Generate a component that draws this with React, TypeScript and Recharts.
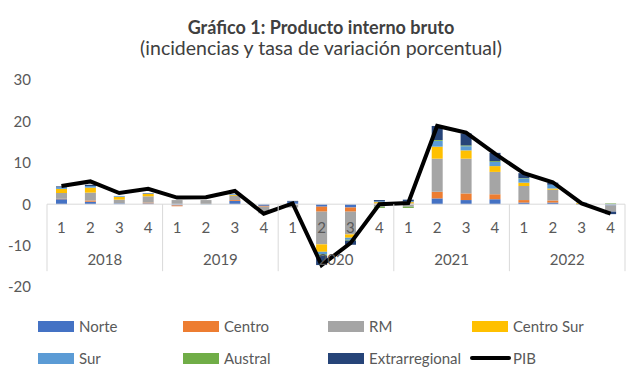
import React from "react";
import {
  ComposedChart,
  Bar,
  Line,
  XAxis,
  YAxis,
  ReferenceLine,
} from "recharts";

const years = ["2018", "2019", "2020", "2021", "2022"];
const quarters = ["1", "2", "3", "4"];

const norte = [1.2, 0.6, 0.2, 0.2, -0.3, 0.0, 0.8, -0.4, 0.6, -0.6, -0.8, 0.1, 0.1, 1.4, 1.0, 1.2, 0.4, 0.4, -0.2, -0.3];
const centro = [0.1, 0.3, 0.0, 0.2, -0.2, 0.0, 0.2, -0.2, 0.0, -1.2, -1.0, 0.1, 0.1, 1.6, 1.6, 1.2, 0.6, 0.5, 0.0, 0.0];
const rm = [1.4, 1.9, 0.9, 1.5, 1.0, 1.0, 1.0, -1.6, -0.8, -7.9, -5.5, -0.6, -0.6, 8.0, 8.4, 5.4, 3.4, 2.6, 0.0, -1.5];
const centroSur = [1.0, 1.2, 0.7, 0.6, 0.0, 0.0, 0.2, 0.0, 0.0, -1.8, -0.8, 0.3, 0.3, 2.9, 2.0, 1.4, 0.8, 0.3, 0.3, 0.0];
const sur = [0.4, 0.4, 0.2, 0.1, 0.0, -0.1, 0.2, 0.0, 0.0, -0.6, -0.5, 0.2, 0.2, 1.4, 1.0, 1.0, 1.0, 0.9, 0.1, 0.0];
const austral = [0.0, 0.0, 0.0, 0.0, 0.0, 0.0, 0.0, 0.0, 0.0, -0.3, -0.2, -0.3, -0.3, 0.2, 0.2, 0.2, 0.1, 0.0, 0.0, 0.2];
const extrarregional = [0.2, 0.3, 0.0, 0.1, 0.0, 0.0, 0.0, 0.0, 0.2, -2.3, -1.0, 0.3, 0.4, 3.4, 2.9, 2.0, 1.2, 0.5, 0.0, -0.6];
const pib = [4.4, 5.5, 2.7, 3.7, 1.6, 1.7, 3.2, -2.3, 0.2, -14.7, -9.4, 0.0, 0.3, 18.9, 17.3, 12.2, 7.5, 5.3, 0.2, -2.3];

const yTicks = [-20, -10, 0, 10, 20, 30];

const series = [
  { key: "norte", name: "Norte", color: "#4472C4", values: norte },
  { key: "centro", name: "Centro", color: "#ED7D31", values: centro },
  { key: "rm", name: "RM", color: "#A5A5A5", values: rm },
  { key: "centroSur", name: "Centro Sur", color: "#FFC000", values: centroSur },
  { key: "sur", name: "Sur", color: "#5B9BD5", values: sur },
  { key: "austral", name: "Austral", color: "#70AD47", values: austral },
  { key: "extra", name: "Extrarregional", color: "#264478", values: extrarregional },
];

const data = years.flatMap((yr, yi) =>
  quarters.map((q, qi) => {
    const i = yi * 4 + qi;
    const row: Record<string, any> = { label: `${yr}-${q}`, year: yr, q };
    series.forEach((s) => (row[s.key] = s.values[i]));
    row.pib = pib[i];
    return row;
  })
);

// layout
const W = 642;
const TOP = 80;
const LEFT = 47;
const RIGHT = 17;
const PLOT_H = 207;
const PLOT_W = W - LEFT - RIGHT;
const BAND = PLOT_W / data.length;
const ZERO_Y = TOP + (PLOT_H * 30) / 50;
const TEXT = "#595959";
const GRID = "#D9D9D9";

function CategoryTick(props: any) {
  const { x, payload } = props;
  const [yr, q] = String(payload.value).split("-");
  const last = payload.value === data[data.length - 1].label;
  return (
    <g>
      <text x={x} y={ZERO_Y + 29} textAnchor="middle" fill={TEXT} fontSize={15}>
        {q}
      </text>
      {q === "1" && (
        <>
          <line x1={x - BAND / 2} x2={x - BAND / 2} y1={ZERO_Y} y2={ZERO_Y + 67} stroke={GRID} />
          <text x={x + BAND * 1.5} y={ZERO_Y + 61} textAnchor="middle" fill={TEXT} fontSize={15}>
            {yr}
          </text>
        </>
      )}
      {last && (
        <line x1={x + BAND / 2} x2={x + BAND / 2} y1={ZERO_Y} y2={ZERO_Y + 67} stroke={GRID} />
      )}
    </g>
  );
}

const legendCols = [38, 183, 328, 472];
const legendRows = [326, 358];

export default function App() {
  const items = [
    ...series.map((s) => ({ name: s.name, color: s.color, line: false })),
    { name: "PIB", color: "#000000", line: true },
  ];
  return (
    <div
      style={{
        position: "absolute",
        left: 0,
        top: 0,
        width: W,
        height: 392,
        background: "#fff",
        fontFamily: "Lato, 'Open Sans', sans-serif",
      }}
    >
      <div
        style={{
          position: "absolute",
          top: 16,
          left: 0,
          width: W,
          textAlign: "center",
          fontWeight: 700,
          fontSize: 18,
          lineHeight: "22px",
          color: "#404040",
        }}
      >
        Gráfico 1: Producto interno bruto
      </div>
      <div
        style={{
          position: "absolute",
          top: 36,
          left: 0,
          width: W,
          textAlign: "center",
          fontSize: 19.5,
          lineHeight: "24px",
          color: "#404040",
        }}
      >
        (incidencias y tasa de variación porcentual)
      </div>
      <div style={{ position: "absolute", left: 0, top: 0 }}>
        <ComposedChart
          width={W}
          height={TOP + PLOT_H + 13}
          data={data}
          stackOffset="sign"
          margin={{ top: TOP, right: RIGHT, left: 0, bottom: 0 }}
        >
          <XAxis
            dataKey="label"
            height={13}
            interval={0}
            axisLine={false}
            tickLine={false}
            tick={<CategoryTick />}
          />
          <YAxis
            width={LEFT}
            domain={[-20, 30]}
            ticks={yTicks}
            axisLine={false}
            tickLine={false}
            tickSize={0}
            tickMargin={16}
            tick={{ fill: TEXT, fontSize: 15 }}
          />
          <ReferenceLine y={0} stroke={GRID} strokeWidth={1} />
          {series.map((s) => (
            <Bar
              key={s.key}
              dataKey={s.key}
              name={s.name}
              stackId="a"
              fill={s.color}
              barSize={11}
              isAnimationActive={false}
            />
          ))}
          <Line
            dataKey="pib"
            name="PIB"
            type="linear"
            stroke="#000000"
            strokeWidth={4}
            dot={false}
            activeDot={false}
            isAnimationActive={false}
          />
        </ComposedChart>
      </div>
      {items.map((it, i) => {
        const x = legendCols[i % 4];
        const y = legendRows[Math.floor(i / 4)];
        return (
          <div key={it.name}>
            {it.line ? (
              <div
                style={{
                  position: "absolute",
                  left: x - 2,
                  top: y - 2,
                  width: 41,
                  height: 4,
                  borderRadius: 2,
                  background: it.color,
                }}
              />
            ) : (
              <div
                style={{
                  position: "absolute",
                  left: x,
                  top: y - 5,
                  width: 36,
                  height: 11,
                  background: it.color,
                }}
              />
            )}
            <div
              style={{
                position: "absolute",
                left: x + 41,
                top: y - 10,
                fontSize: 15,
                lineHeight: "20px",
                color: TEXT,
                whiteSpace: "nowrap",
              }}
            >
              {it.name}
            </div>
          </div>
        );
      })}
    </div>
  );
}
